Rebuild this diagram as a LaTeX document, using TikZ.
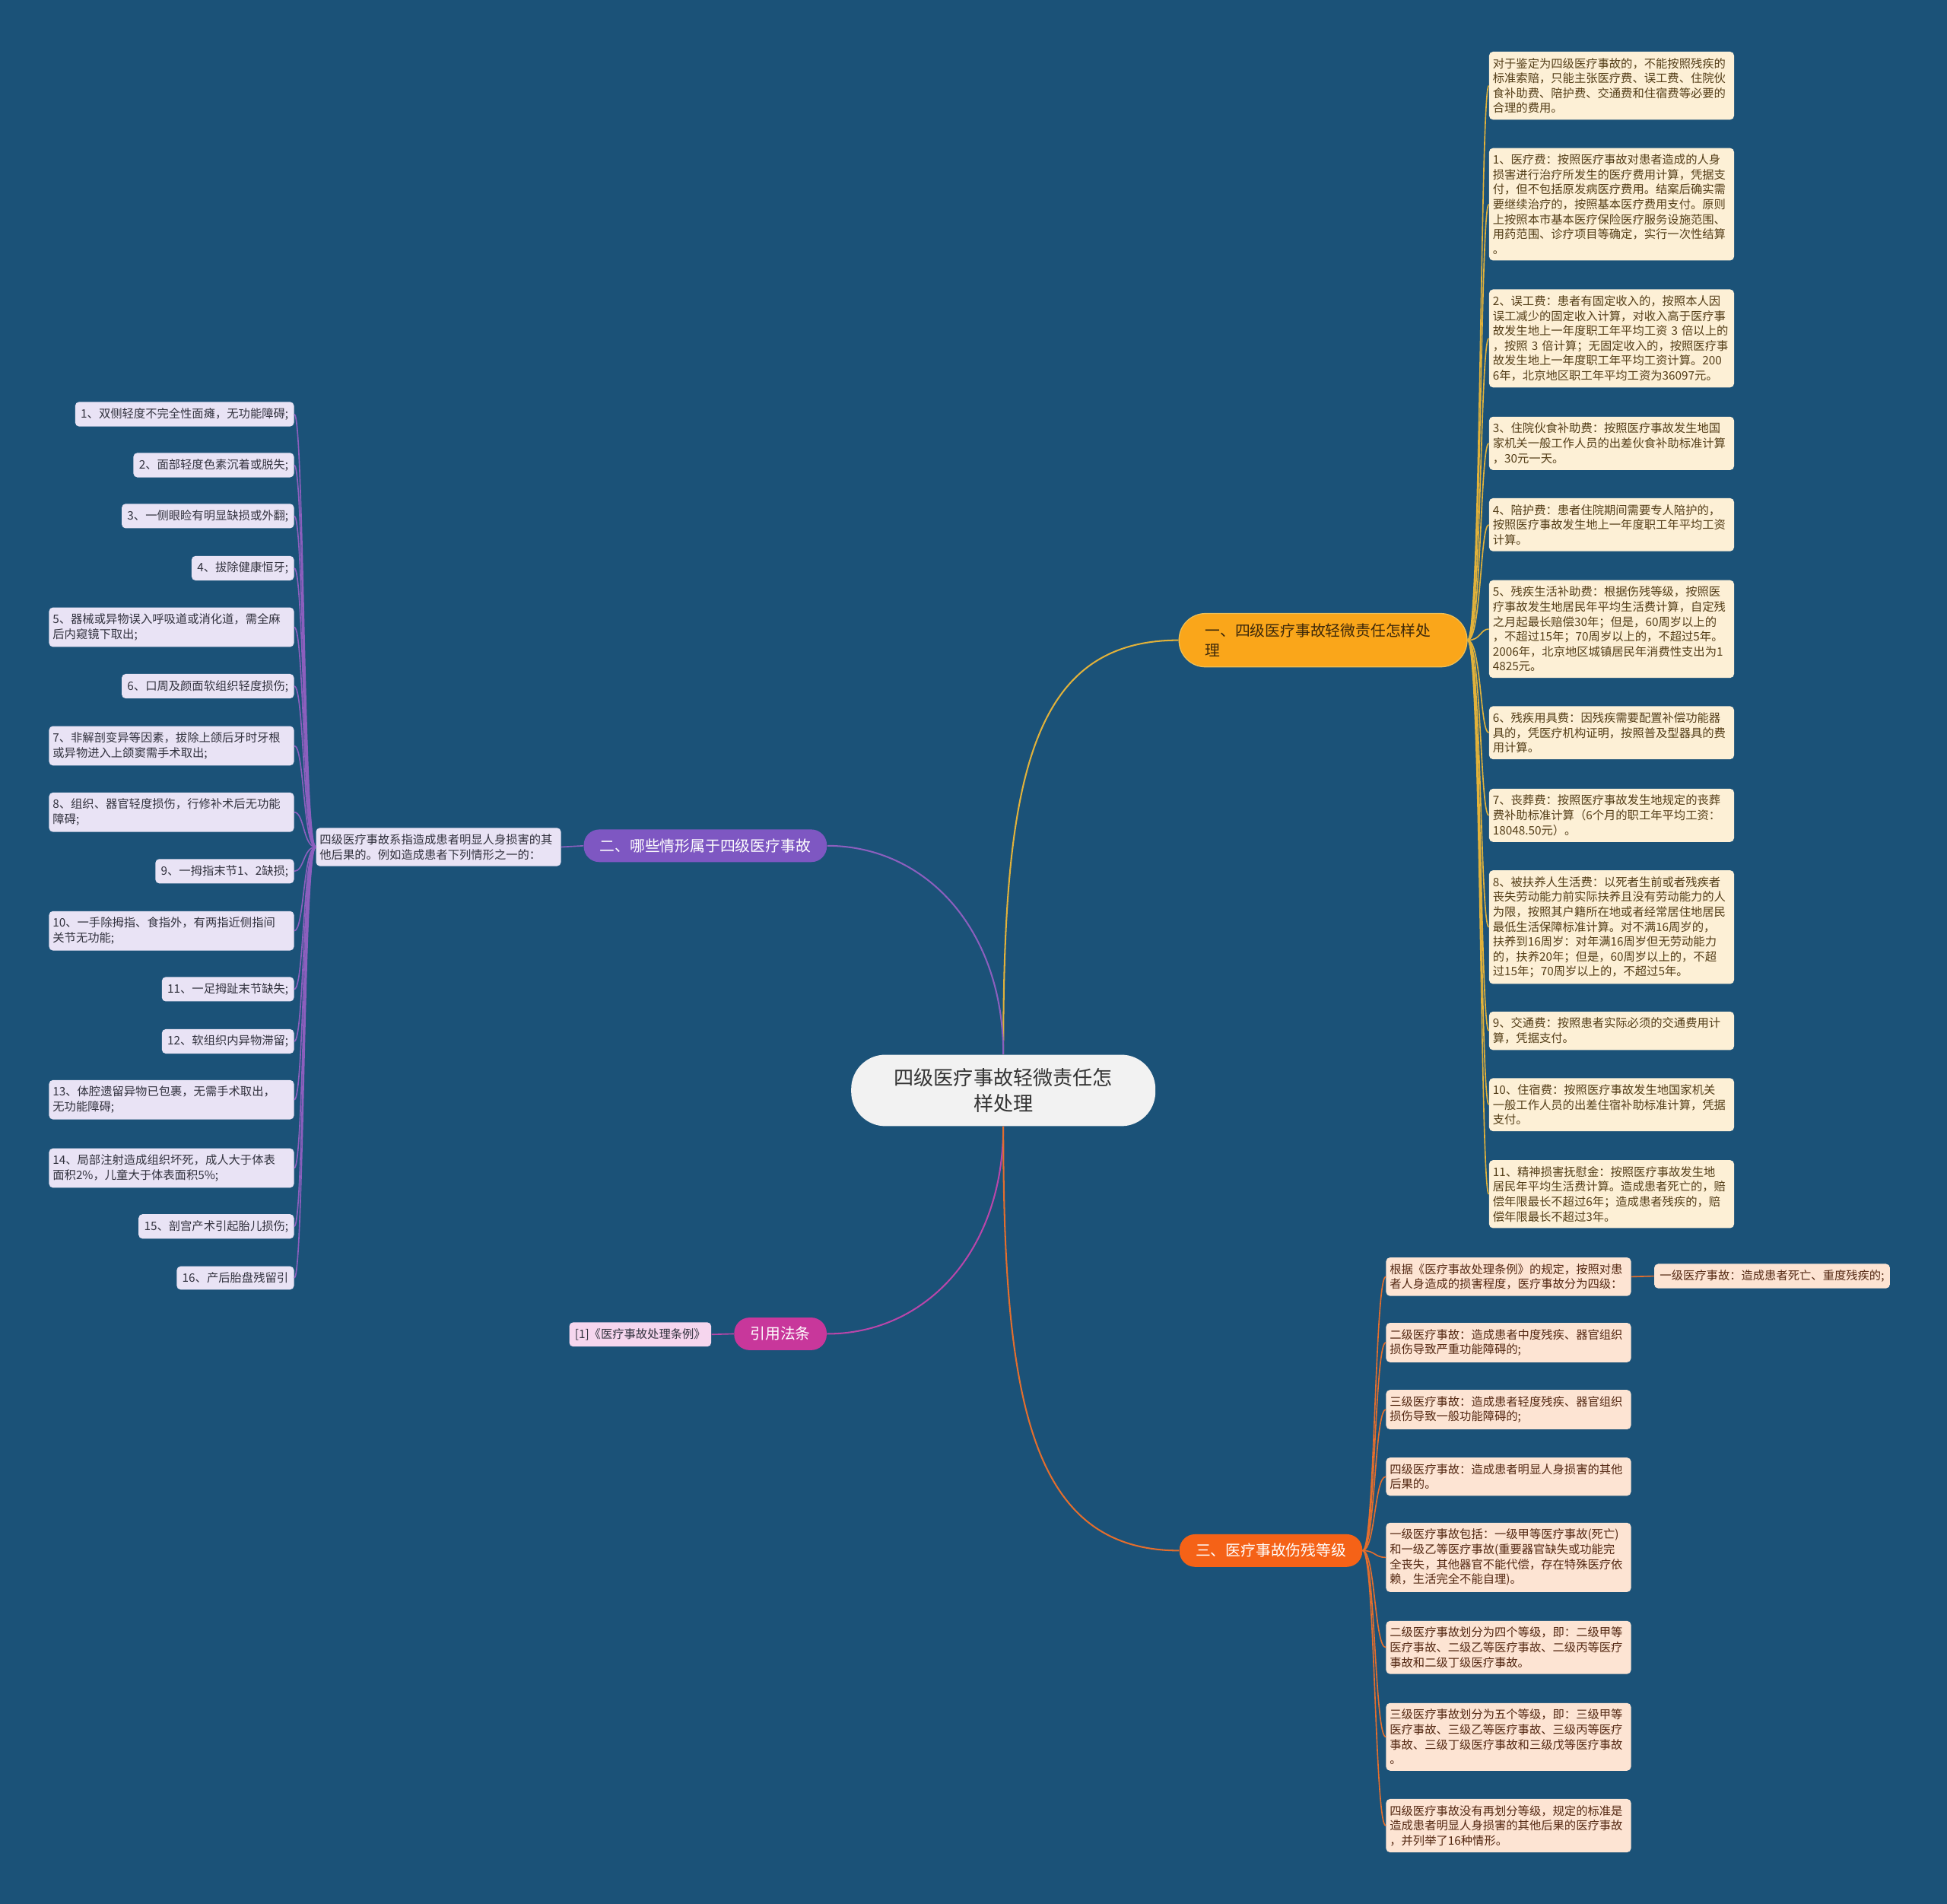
\documentclass[tikz,border=0pt]{standalone}
\usepackage{fontspec}
\setmainfont{Noto Sans CJK SC}
\usepackage{tikz}

\definecolor{bgblue}{RGB}{27,82,120}
\definecolor{rootfill}{RGB}{242,242,242}
\definecolor{roottext}{RGB}{51,51,51}
\definecolor{onefill}{RGB}{250,166,26}
\definecolor{oneedge}{RGB}{238,192,86}
\definecolor{onetext}{RGB}{60,40,10}
\definecolor{oneline}{RGB}{226,178,58}
\definecolor{feefill}{RGB}{253,240,214}
\definecolor{feetext}{RGB}{84,62,24}
\definecolor{twofill}{RGB}{126,87,194}
\definecolor{twoline}{RGB}{140,95,190}
\definecolor{sitfill}{RGB}{233,227,245}
\definecolor{sittext}{RGB}{50,50,62}
\definecolor{threefill}{RGB}{245,98,23}
\definecolor{threeline}{RGB}{228,110,45}
\definecolor{gradefill}{RGB}{253,228,211}
\definecolor{gradetext}{RGB}{84,40,18}
\definecolor{lawfill}{RGB}{200,55,155}
\definecolor{lawline}{RGB}{185,70,170}
\definecolor{reffill}{RGB}{246,214,238}

\begin{document}
\begin{tikzpicture}[x=0.8pt,y=-0.8pt,
  rootbox/.style={rectangle,rounded corners=22pt,fill=rootfill,text=roottext,minimum width=196pt,minimum height=46pt,align=center,font=\fontsize{12.8pt}{16.8pt}\selectfont},
  branch/.style={rectangle,rounded corners=10pt,minimum height=21pt,inner xsep=10.4pt,inner ysep=2pt,text=white,font=\fontsize{9.7pt}{12.8pt}\selectfont},
  leaf/.style={rectangle,rounded corners=2.5pt,inner xsep=3.6pt,inner ysep=4pt,align=left,font=\fontsize{7.5pt}{9.6pt}\selectfont},
  wideleaf/.style={leaf,text width=153pt,inner xsep=2.4pt},
  fee/.style={wideleaf,fill=feefill,text=feetext},
  sit/.style={leaf,fill=sitfill,text=sittext},
  widesit/.style={wideleaf,fill=sitfill,text=sittext},
  grade/.style={wideleaf,fill=gradefill,text=gradetext},
  mainline/.style={line width=1pt},
  subline/.style={line width=0.8pt}]
\path[use as bounding box,fill=bgblue] (0,0) rectangle (1568,1533);

% root
\node[rootbox] (root) at (808,878) {四级医疗事故轻微责任怎\\样处理};

% branch one
\node[rectangle,rounded corners=17pt,fill=onefill,draw=oneedge,line width=0.6pt,text=onetext,text width=152pt,inner xsep=16.8pt,minimum height=34.4pt,align=left,font=\fontsize{9.7pt}{12.8pt}\selectfont] (one) at (1065.5,515.5) {一、四级医疗事故轻微责任怎样处\\理};
\node[fee,anchor=west] (f0) at (1199,69) {对于鉴定为四级医疗事故的，不能按照残疾的\\标准索赔，只能主张医疗费、误工费、住院伙\\食补助费、陪护费、交通费和住宿费等必要的\\合理的费用。};
\node[fee,anchor=west] (f1) at (1199,164.5) {1、医疗费：按照医疗事故对患者造成的人身\\损害进行治疗所发生的医疗费用计算，凭据支\\付，但不包括原发病医疗费用。结案后确实需\\要继续治疗的，按照基本医疗费用支付。原则\\上按照本市基本医疗保险医疗服务设施范围、\\用药范围、诊疗项目等确定，实行一次性结算\\。};
\node[fee,anchor=west] (f2) at (1199,272.5) {2、误工费：患者有固定收入的，按照本人因\\误工减少的固定收入计算，对收入高于医疗事\\故发生地上一年度职工年平均工资 3 倍以上的\\，按照 3 倍计算；无固定收入的，按照医疗事\\故发生地上一年度职工年平均工资计算。200\\6年，北京地区职工年平均工资为36097元。};
\node[fee,anchor=west] (f3) at (1199,357) {3、住院伙食补助费：按照医疗事故发生地国\\家机关一般工作人员的出差伙食补助标准计算\\，30元一天。};
\node[fee,anchor=west] (f4) at (1199,422.5) {4、陪护费：患者住院期间需要专人陪护的，\\按照医疗事故发生地上一年度职工年平均工资\\计算。};
\node[fee,anchor=west] (f5) at (1199,506.5) {5、残疾生活补助费：根据伤残等级，按照医\\疗事故发生地居民年平均生活费计算，自定残\\之月起最长赔偿30年；但是，60周岁以上的\\，不超过15年；70周岁以上的，不超过5年。\\2006年，北京地区城镇居民年消费性支出为1\\4825元。};
\node[fee,anchor=west] (f6) at (1199,590) {6、残疾用具费：因残疾需要配置补偿功能器\\具的，凭医疗机构证明，按照普及型器具的费\\用计算。};
\node[fee,anchor=west] (f7) at (1199,656.5) {7、丧葬费：按照医疗事故发生地规定的丧葬\\费补助标准计算（6个月的职工年平均工资：\\18048.50元）。};
\node[fee,anchor=west] (f8) at (1199,746.5) {8、被扶养人生活费：以死者生前或者残疾者\\丧失劳动能力前实际扶养且没有劳动能力的人\\为限，按照其户籍所在地或者经常居住地居民\\最低生活保障标准计算。对不满16周岁的，\\扶养到16周岁：对年满16周岁但无劳动能力\\的，扶养20年；但是，60周岁以上的，不超\\过15年；70周岁以上的，不超过5年。};
\node[fee,anchor=west] (f9) at (1199,830) {9、交通费：按照患者实际必须的交通费用计\\算，凭据支付。};
\node[fee,anchor=west] (f10) at (1199,889.5) {10、住宿费：按照医疗事故发生地国家机关\\一般工作人员的出差住宿补助标准计算，凭据\\支付。};
\node[fee,anchor=west] (f11) at (1199,961.5) {11、精神损害抚慰金：按照医疗事故发生地\\居民年平均生活费计算。造成患者死亡的，赔\\偿年限最长不超过6年；造成患者残疾的，赔\\偿年限最长不超过3年。};

% branch two
\node[branch,fill=twofill] (two) at (568,681) {二、哪些情形属于四级医疗事故};
\node[widesit,anchor=east] (desc) at (452,682) {四级医疗事故系指造成患者明显人身损害的其\\他后果的。例如造成患者下列情形之一的：};
\node[sit,anchor=east] (s1) at (237,333.5) {1、双侧轻度不完全性面瘫，无功能障碍;};
\node[sit,anchor=east] (s2) at (237,374.5) {2、面部轻度色素沉着或脱失;};
\node[sit,anchor=east] (s3) at (237,415.5) {3、一侧眼睑有明显缺损或外翻;};
\node[sit,anchor=east] (s4) at (237,457.5) {4、拔除健康恒牙;};
\node[widesit,anchor=east] (s5) at (237,505) {5、器械或异物误入呼吸道或消化道，需全麻\\后内窥镜下取出;};
\node[sit,anchor=east] (s6) at (237,552.5) {6、口周及颜面软组织轻度损伤;};
\node[widesit,anchor=east] (s7) at (237,600.5) {7、非解剖变异等因素，拔除上颌后牙时牙根\\或异物进入上颌窦需手术取出;};
\node[widesit,anchor=east] (s8) at (237,654) {8、组织、器官轻度损伤，行修补术后无功能\\障碍;};
\node[sit,anchor=east] (s9) at (237,701.5) {9、一拇指末节1、2缺损;};
\node[widesit,anchor=east] (s10) at (237,749.5) {10、一手除拇指、食指外，有两指近侧指间\\关节无功能;};
\node[sit,anchor=east] (s11) at (237,796.5) {11、一足拇趾末节缺失;};
\node[sit,anchor=east] (s12) at (237,838.5) {12、软组织内异物滞留;};
\node[widesit,anchor=east] (s13) at (237,885.5) {13、体腔遗留异物已包裹，无需手术取出，\\无功能障碍;};
\node[widesit,anchor=east] (s14) at (237,940.5) {14、局部注射造成组织坏死，成人大于体表\\面积2\%，儿童大于体表面积5\%;};
\node[sit,anchor=east] (s15) at (237,987.5) {15、剖宫产术引起胎儿损伤;};
\node[sit,anchor=east] (s16) at (237,1029) {16、产后胎盘残留引};

% branch three
\node[branch,fill=threefill] (three) at (1023.5,1248.5) {三、医疗事故伤残等级};
\node[grade,anchor=west] (g1) at (1116,1028) {根据《医疗事故处理条例》的规定，按照对患\\者人身造成的损害程度，医疗事故分为四级：};
\node[leaf,fill=gradefill,text=gradetext,anchor=west] (g1a) at (1332,1027.5) {一级医疗事故：造成患者死亡、重度残疾的;};
\node[grade,anchor=west] (g2) at (1116,1081) {二级医疗事故：造成患者中度残疾、器官组织\\损伤导致严重功能障碍的;};
\node[grade,anchor=west] (g3) at (1116,1135) {三级医疗事故：造成患者轻度残疾、器官组织\\损伤导致一般功能障碍的;};
\node[grade,anchor=west] (g4) at (1116,1189) {四级医疗事故：造成患者明显人身损害的其他\\后果的。};
\node[grade,anchor=west] (g5) at (1116,1254) {一级医疗事故包括：一级甲等医疗事故(死亡)\\和一级乙等医疗事故(重要器官缺失或功能完\\全丧失，其他器官不能代偿，存在特殊医疗依\\赖，生活完全不能自理)。};
\node[grade,anchor=west] (g6) at (1116,1326.5) {二级医疗事故划分为四个等级，即：二级甲等\\医疗事故、二级乙等医疗事故、二级丙等医疗\\事故和二级丁级医疗事故。};
\node[grade,anchor=west] (g7) at (1116,1398.5) {三级医疗事故划分为五个等级，即：三级甲等\\医疗事故、三级乙等医疗事故、三级丙等医疗\\事故、三级丁级医疗事故和三级戊等医疗事故\\。};
\node[grade,anchor=west] (g8) at (1116,1470) {四级医疗事故没有再划分等级，规定的标准是\\造成患者明显人身损害的其他后果的医疗事故\\，并列举了16种情形。};

% branch law
\node[branch,fill=lawfill] (law) at (628.5,1074) {引用法条};
\node[leaf,fill=reffill,text=sittext,anchor=east] (lawref) at (573,1074.5) {[1]《医疗事故处理条例》};

% connectors from root
\draw[mainline,draw=oneline] (root.north) .. controls +(0,-220) and +(-120,0) .. (one.west);
\draw[mainline,draw=twoline] (root.north) .. controls +(0,-100) and +(80,0) .. (two.east);
\draw[mainline,draw=lawline] (root.south) .. controls +(0,100) and +(80,0) .. (law.east);
\draw[mainline,draw=threeline] (root.south) .. controls +(0,220) and +(-120,0) .. (three.west);

% branch one children
\draw[subline,draw=oneline] (one.east) .. controls +(11,0) and +(-7,0) .. (f0.west);
\draw[subline,draw=oneline] (one.east) .. controls +(11,0) and +(-7,0) .. (f1.west);
\draw[subline,draw=oneline] (one.east) .. controls +(11,0) and +(-7,0) .. (f2.west);
\draw[subline,draw=oneline] (one.east) .. controls +(11,0) and +(-7,0) .. (f3.west);
\draw[subline,draw=oneline] (one.east) .. controls +(11,0) and +(-7,0) .. (f4.west);
\draw[subline,draw=oneline] (one.east) .. controls +(11,0) and +(-7,0) .. (f5.west);
\draw[subline,draw=oneline] (one.east) .. controls +(11,0) and +(-7,0) .. (f6.west);
\draw[subline,draw=oneline] (one.east) .. controls +(11,0) and +(-7,0) .. (f7.west);
\draw[subline,draw=oneline] (one.east) .. controls +(11,0) and +(-7,0) .. (f8.west);
\draw[subline,draw=oneline] (one.east) .. controls +(11,0) and +(-7,0) .. (f9.west);
\draw[subline,draw=oneline] (one.east) .. controls +(11,0) and +(-7,0) .. (f10.west);
\draw[subline,draw=oneline] (one.east) .. controls +(11,0) and +(-7,0) .. (f11.west);

% branch two children
\draw[subline,draw=twoline] (two.west) -- (desc.east);
\draw[subline,draw=twoline] (desc.west) .. controls +(-10,0) and +(8,0) .. (s1.east);
\draw[subline,draw=twoline] (desc.west) .. controls +(-10,0) and +(8,0) .. (s2.east);
\draw[subline,draw=twoline] (desc.west) .. controls +(-10,0) and +(8,0) .. (s3.east);
\draw[subline,draw=twoline] (desc.west) .. controls +(-10,0) and +(8,0) .. (s4.east);
\draw[subline,draw=twoline] (desc.west) .. controls +(-10,0) and +(8,0) .. (s5.east);
\draw[subline,draw=twoline] (desc.west) .. controls +(-10,0) and +(8,0) .. (s6.east);
\draw[subline,draw=twoline] (desc.west) .. controls +(-10,0) and +(8,0) .. (s7.east);
\draw[subline,draw=twoline] (desc.west) .. controls +(-10,0) and +(8,0) .. (s8.east);
\draw[subline,draw=twoline] (desc.west) .. controls +(-10,0) and +(8,0) .. (s9.east);
\draw[subline,draw=twoline] (desc.west) .. controls +(-10,0) and +(8,0) .. (s10.east);
\draw[subline,draw=twoline] (desc.west) .. controls +(-10,0) and +(8,0) .. (s11.east);
\draw[subline,draw=twoline] (desc.west) .. controls +(-10,0) and +(8,0) .. (s12.east);
\draw[subline,draw=twoline] (desc.west) .. controls +(-10,0) and +(8,0) .. (s13.east);
\draw[subline,draw=twoline] (desc.west) .. controls +(-10,0) and +(8,0) .. (s14.east);
\draw[subline,draw=twoline] (desc.west) .. controls +(-10,0) and +(8,0) .. (s15.east);
\draw[subline,draw=twoline] (desc.west) .. controls +(-10,0) and +(8,0) .. (s16.east);

% branch three children
\draw[subline,draw=threeline] (three.east) .. controls +(10,0) and +(-9,0) .. (g1.west);
\draw[subline,draw=threeline] (three.east) .. controls +(10,0) and +(-9,0) .. (g2.west);
\draw[subline,draw=threeline] (three.east) .. controls +(10,0) and +(-9,0) .. (g3.west);
\draw[subline,draw=threeline] (three.east) .. controls +(10,0) and +(-9,0) .. (g4.west);
\draw[subline,draw=threeline] (three.east) .. controls +(10,0) and +(-9,0) .. (g5.west);
\draw[subline,draw=threeline] (three.east) .. controls +(10,0) and +(-9,0) .. (g6.west);
\draw[subline,draw=threeline] (three.east) .. controls +(10,0) and +(-9,0) .. (g7.west);
\draw[subline,draw=threeline] (three.east) .. controls +(10,0) and +(-9,0) .. (g8.west);
\draw[subline,draw=threeline] (g1.east) -- (g1a.west);

% law child
\draw[subline,draw=lawline] (law.west) -- (lawref.east);
\end{tikzpicture}
\end{document}
